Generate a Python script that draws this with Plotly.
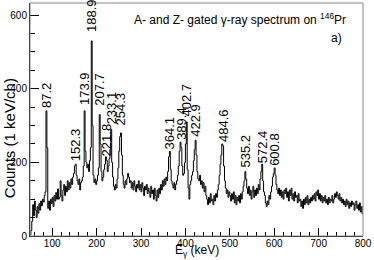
import plotly.graph_objects as go

# ---- data ----
bin_lo = 50      # keV, lower edge of first bin
bin_w = 2        # keV per plotted bin

counts = [
    3, 15, 40, 85, 55, 95, 70, 50, 80, 62, 88, 70, 95, 82, 100, 92, 110, 120, 340, 240, 75, 95, 70, 100, 88,
    105, 80, 110, 95, 118, 100, 128, 100, 105, 150, 110, 95, 125, 140, 110, 135, 120, 150, 125, 145, 130, 155, 140, 160, 170,
    190, 195, 165, 150, 140, 155, 125, 145, 150, 160, 190, 340, 230, 200, 185, 195, 175, 205, 240, 530, 300, 165, 145, 155, 140,
    150, 165, 185, 330, 250, 175, 150, 160, 180, 195, 215, 205, 175, 190, 210, 235, 290, 200, 160, 135, 125, 140, 130, 155, 185,
    230, 270, 280, 220, 165, 140, 130, 150, 140, 155, 170, 160, 145, 150, 130, 145, 125, 150, 135, 120, 140, 130, 150, 125, 140,
    120, 145, 130, 110, 135, 125, 140, 115, 130, 120, 105, 135, 115, 125, 100, 130, 110, 95, 125, 105, 130, 115, 140, 125, 150,
    135, 155, 140, 160, 150, 175, 215, 230, 180, 150, 140, 130, 145, 125, 140, 150, 165, 190, 230, 255, 240, 190, 165, 170, 200,
    250, 310, 180, 130, 100, 140, 150, 165, 175, 205, 235, 260, 220, 175, 155, 150, 165, 140, 150, 130, 145, 120, 135, 110, 100,
    85, 105, 90, 115, 95, 100, 85, 110, 95, 115, 105, 125, 140, 165, 195, 220, 250, 245, 190, 150, 130, 115, 125, 105, 120,
    110, 95, 115, 100, 120, 90, 110, 85, 105, 95, 110, 90, 115, 100, 120, 135, 150, 175, 155, 130, 115, 135, 110, 125, 100,
    120, 135, 105, 125, 110, 130, 115, 140, 125, 155, 175, 195, 150, 120, 110, 90, 80, 95, 85, 110, 100, 120, 135, 160, 170,
    185, 165, 140, 125, 115, 130, 110, 125, 105, 120, 100, 125, 115, 130, 105, 120, 95, 125, 110, 130, 100, 115, 95, 120, 105,
    110, 90, 115, 95, 100, 80, 95, 75, 100, 85, 105, 90, 110, 85, 100, 90, 105, 95, 110, 100, 115, 95, 120, 110, 125,
    100, 115, 95, 110, 90, 105, 95, 110, 90, 100, 85, 105, 90, 100, 95, 110, 90, 100, 115, 105, 120, 110, 100, 115, 95,
    105, 90, 100, 85, 95, 80, 100, 85, 95, 75, 90, 80, 95, 85, 90, 70, 85, 95, 75, 85, 70, 90, 65, 80, 60,
]

peak_energy = [87.2, 152.3, 173.9, 188.9, 207.7, 221.8, 233.1, 254.3,
               364.1, 389.4, 402.7, 422.9, 484.6, 535.2, 572.4, 600.8]
peak_label = ["87.2", "152.3", "173.9", "188.9", "207.7", "221.8", "233.1", "254.3",
              "364.1", "389.4", "402.7", "422.9", "484.6", "535.2", "572.4", "600.8"]
label_base = [345, 200, 352, 552, 350, 213, 300, 298,
              232, 259, 322, 267, 254, 183, 196, 188]

x_ticks = [100, 200, 300, 400, 500, 600, 700, 800]
y_ticks = [0, 200, 400, 600]

centers = [bin_lo + bin_w * (i + 0.5) for i in range(len(counts))]

FONT = "Liberation Sans, Arial, Helvetica, sans-serif"

fig = go.Figure()
fig.add_trace(go.Scatter(
    x=centers, y=counts, mode="lines", line_shape="hvh",
    line=dict(color="black", width=1), hoverinfo="skip", showlegend=False,
))

annotations = []
for e, t, yb in zip(peak_energy, peak_label, label_base):
    annotations.append(dict(
        x=e, y=yb, xref="x", yref="y", text=t, textangle=-90,
        xanchor="center", yanchor="bottom", showarrow=False, borderpad=0,
        font=dict(family=FONT, size=13, color="black"),
    ))

# title inside the frame
annotations.append(dict(
    x=0.309, y=0.931, xref="paper", yref="paper",
    text="A- and Z- gated γ-ray spectrum on <sup>146</sup>Pr",
    xanchor="left", yanchor="middle", showarrow=False, borderpad=0,
    font=dict(family=FONT, size=12, color="black"),
))
annotations.append(dict(
    x=0.92, y=0.85, xref="paper", yref="paper", text="a)",
    xanchor="center", yanchor="middle", showarrow=False, borderpad=0,
    font=dict(family=FONT, size=12, color="black"),
))
# axis titles
annotations.append(dict(
    x=-0.063, y=0.42, xref="paper", yref="paper", text="Counts (1 keV/ch)",
    textangle=-90, xanchor="center", yanchor="middle", showarrow=False, borderpad=0,
    font=dict(family=FONT, size=15, color="black"),
))
annotations.append(dict(
    x=0.5, y=-0.103, xref="paper", yref="paper", text="E<sub>γ</sub> (keV)",
    xanchor="center", yanchor="bottom", showarrow=False, borderpad=0,
    font=dict(family=FONT, size=12, color="black"),
))

fig.update_layout(
    width=374, height=260,
    margin=dict(l=30, r=11, t=3, b=24),
    paper_bgcolor="white", plot_bgcolor="white",
    font=dict(family=FONT, size=10, color="black"),
    annotations=annotations,
    shapes=[dict(type="rect", xref="paper", yref="paper", x0=0, x1=1, y0=0, y1=1,
                 line=dict(color="#8a8a8a", width=1), layer="above")],
    xaxis=dict(
        range=[50, 800], tickvals=x_ticks, ticks="inside", ticklen=8, tickcolor="black",
        minor=dict(dtick=20, tick0=0, ticks="inside", ticklen=4, tickcolor="black"),
        showgrid=False, zeroline=False, showline=True, linecolor="black", linewidth=1,
        tickfont=dict(family=FONT, size=10, color="black"), automargin=False,
        ticklabelstandoff=-2,
    ),
    yaxis=dict(
        range=[0, 633], tickvals=y_ticks, ticks="inside", ticklen=9, tickcolor="black",
        minor=dict(dtick=50, tick0=0, ticks="inside", ticklen=5, tickcolor="black"),
        showgrid=False, zeroline=False, showline=True, linecolor="black", linewidth=1,
        tickfont=dict(family=FONT, size=10, color="black"), automargin=False,
    ),
)

fig.write_html(
    "out.html",
    config={"displayModeBar": False},
    post_script="document.body.style.margin='0';document.body.style.padding='0';",
)
